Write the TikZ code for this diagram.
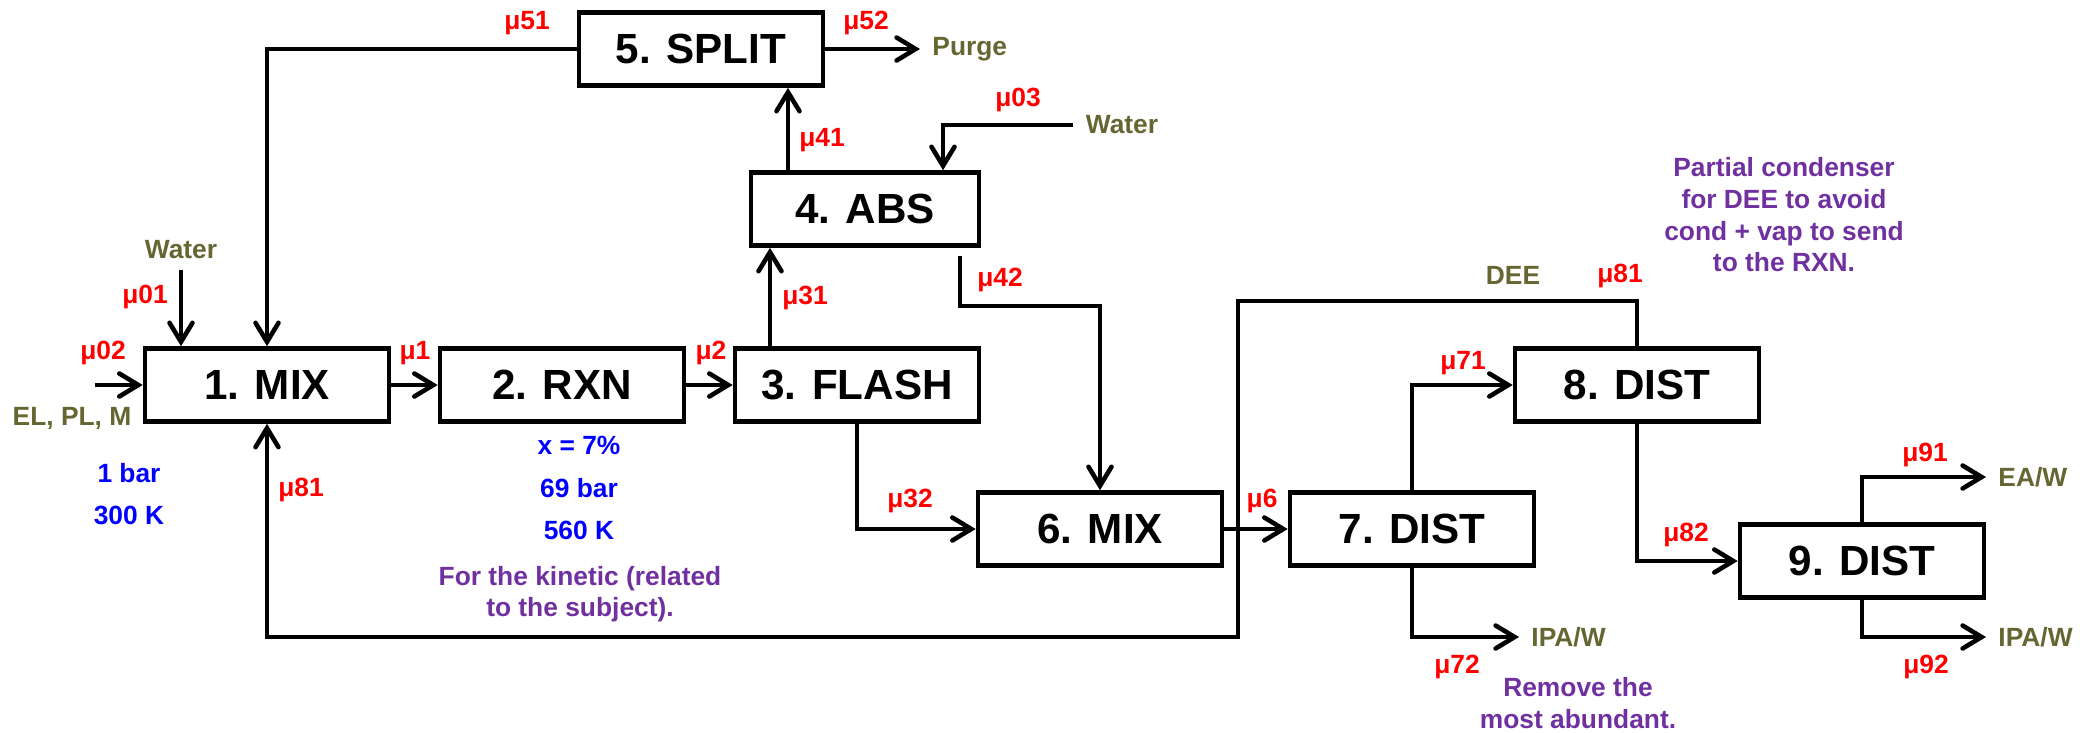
\documentclass[tikz,border=0pt]{standalone}
\usepackage{fontspec}
\setmainfont{Liberation Sans}
\usepackage{tikz}
\usetikzlibrary{positioning,arrows.meta}
\definecolor{streamcol}{RGB}{102,102,51}
\definecolor{notecol}{RGB}{112,48,160}

\begin{document}
\begin{tikzpicture}[
    every node/.style={font=\bfseries\fontsize{7.5}{9}\selectfont},
    unit/.style={draw, line width=1.3pt, minimum width=2.44cm, minimum height=0.73cm,
        inner sep=0pt, font=\bfseries\fontsize{12}{14}\selectfont},
    pipe/.style={line width=1.3pt},
    flow/.style={pipe, -{Straight Barb[length=1.9mm,width=2.3mm,line cap=round]}},
    mu/.style={text=red},
    feed/.style={text=streamcol},
    cond/.style={text=blue, align=center, font=\bfseries\fontsize{7.5}{12}\selectfont},
    note/.style={text=notecol, align=center}
]
    \useasboundingbox (0,0) rectangle (20.87,7.32);

    % unita di processo
    \node[unit] (mix1) at (2.67,3.47) {1. MIX};
    \node[unit] (rxn) at (5.62,3.47) {2. RXN};
    \node[unit] (flash) at (8.57,3.47) {3. FLASH};
    \node[unit, minimum width=2.28cm] (abs) at (8.65,5.23) {4. ABS};
    \node[unit] (split) at (7.01,6.83) {5. SPLIT};
    \node[unit] (mix6) at (11.00,2.03) {6. MIX};
    \node[unit] (dist7) at (14.12,2.03) {7. DIST};
    \node[unit] (dist8) at (16.37,3.47) {8. DIST};
    \node[unit] (dist9) at (18.62,1.71) {9. DIST};

    % alimentazioni e prodotti
    \coordinate (feedin) at (0.95,3.47);
    \node[feed] (elplm) at (0.72,3.14) {EL, PL, M};
    \node[feed] (water1) at (1.81,4.82) {Water};
    \coordinate (w1) at (1.81,4.62);
    \node[feed] (water3) at (11.22,6.07) {Water};
    \coordinate (w3) at (9.43,6.07);
    \node[feed, anchor=west] (purge) at (9.20,6.83) {Purge};
    \node[feed, anchor=west] (ipa7) at (15.19,0.95) {IPA/W};
    \node[feed, anchor=west] (eaw) at (19.86,2.55) {EA/W};
    \node[feed, anchor=west] (ipa9) at (19.86,0.95) {IPA/W};
    \node[feed] (dee) at (15.13,4.57) {DEE};

    % correnti
    \draw[flow] (feedin) -- (mix1);
    \draw[flow] (w1) -- (w1 |- mix1.north);
    \draw[flow] (mix1) -- (rxn);
    \draw[flow] (rxn) -- (flash);
    \draw[flow] ([xshift=-0.87cm]flash.north) -- ([xshift=-0.87cm]flash.north |- abs.south);
    \draw[flow] ([xshift=-0.77cm]abs.north) -- ([xshift=-0.77cm]abs.north |- split.south);
    \draw[flow] (water3.west) -- (w3) -- (w3 |- abs.north);
    \draw[flow] (split.west) -- (split.west -| mix1) -- (mix1.north);
    \draw[flow] (split.east) -- (purge.west);
    \coordinate (c42) at (11.00,4.26);
    \draw[flow, shorten <=0.08cm] ([xshift=0.95cm]abs.south) |- (c42) -- (mix6.north);
    \draw[flow] (flash.south) |- (mix6.west);
    \draw[flow] (mix6) -- (dist7);
    \draw[flow] (dist7.north) |- (dist8.west);
    \draw[flow] (dist7.south) |- (ipa7.west);
    \draw[flow] (dist8.south) |- (dist9.west);
    \draw[flow] (dist9.north) |- (eaw.west);
    \draw[flow] (dist9.south) |- (ipa9.west);

    % riciclo DEE
    \coordinate (r1) at (12.38,4.31);
    \coordinate (r2) at (12.38,0.95);
    \draw[flow] (dist8.north) |- (r1) -- (r2) -- (r2 -| mix1) -- (mix1.south);

    % etichette correnti
    \node[mu] (m02) at (1.03,3.79) {μ02};
    \node[mu] (m01) at (1.45,4.35) {μ01};
    \node[mu] (m1) at (4.15,3.79) {μ1};
    \node[mu] (m2) at (7.11,3.79) {μ2};
    \node[mu] (m31) at (8.05,4.34) {μ31};
    \node[mu] (m41) at (8.22,5.92) {μ41};
    \node[mu] (m03) at (10.18,6.32) {μ03};
    \node[mu] (m42) at (10.00,4.52) {μ42};
    \node[mu] (m51) at (5.27,7.09) {μ51};
    \node[mu] (m52) at (8.66,7.09) {μ52};
    \node[mu] (m32) at (9.10,2.31) {μ32};
    \node[mu] (m6) at (12.62,2.31) {μ6};
    \node[mu] (m81a) at (3.01,2.42) {μ81};
    \node[mu] (m81b) at (16.20,4.56) {μ81};
    \node[mu] (m71) at (14.63,3.69) {μ71};
    \node[mu] (m72) at (14.57,0.65) {μ72};
    \node[mu] (m82) at (16.86,1.97) {μ82};
    \node[mu] (m91) at (19.25,2.77) {μ91};
    \node[mu] (m92) at (19.26,0.65) {μ92};

    % condizioni e note
    \node[cond] (feedcond) at (1.29,2.38) {1 bar\\300 K};
    \node[cond] (rxncond) at (5.79,2.44) {x = 7\%\\69 bar\\560 K};
    \node[note] (kinnote) at (5.80,1.38) {For the kinetic (related\\to the subject).};
    \node[note] (condnote) at (17.84,5.17) {Partial condenser\\for DEE to avoid\\cond + vap to send\\to the RXN.};
    \node[note] (remnote) at (15.78,0.29) {Remove the\\most abundant.};
\end{tikzpicture}
\end{document}
